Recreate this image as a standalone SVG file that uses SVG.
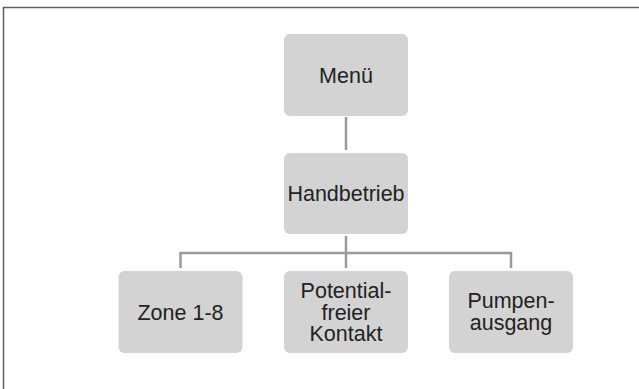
<svg xmlns="http://www.w3.org/2000/svg" width="639" height="389" viewBox="0 0 639 389">
<style>
.box{fill:#d3d3d3;}
.lbl{font-family:"Liberation Sans",Arial,sans-serif;font-size:21.5px;fill:#222;text-anchor:middle;}
.con{fill:none;stroke:#9a9a9a;stroke-width:2.5;}
.frame{fill:none;stroke:#606060;stroke-width:1.5;}
</style>
<rect width="639" height="389" fill="#fff"/>
<path class="frame" d="M3.5,389 V7.5 H639"/>
<g id="connectors">
<path class="con" d="M346,117 V150"/>
<path class="con" d="M346,236 V268"/>
<path class="con" d="M180.5,268 V253 H511 V268"/>
</g>
<g id="menu">
<rect class="box" x="284" y="34" width="124" height="82" rx="6"/>
<text class="lbl" x="346" y="82.5">Menü</text>
</g>
<g id="handbetrieb">
<rect class="box" x="284" y="153" width="124" height="81" rx="6"/>
<text class="lbl" x="346" y="200.5">Handbetrieb</text>
</g>
<g id="zone">
<rect class="box" x="118.5" y="271" width="124" height="82" rx="6"/>
<text class="lbl" x="180.5" y="320">Zone 1-8</text>
</g>
<g id="potential">
<rect class="box" x="284" y="271" width="124" height="82" rx="6"/>
<text class="lbl" x="346" y="298">Potential-</text>
<text class="lbl" x="346" y="319.5">freier</text>
<text class="lbl" x="346" y="341">Kontakt</text>
</g>
<g id="pumpen">
<rect class="box" x="449" y="271" width="124" height="82" rx="6"/>
<text class="lbl" x="511" y="308">Pumpen-</text>
<text class="lbl" x="511" y="330">ausgang</text>
</g>
</svg>
